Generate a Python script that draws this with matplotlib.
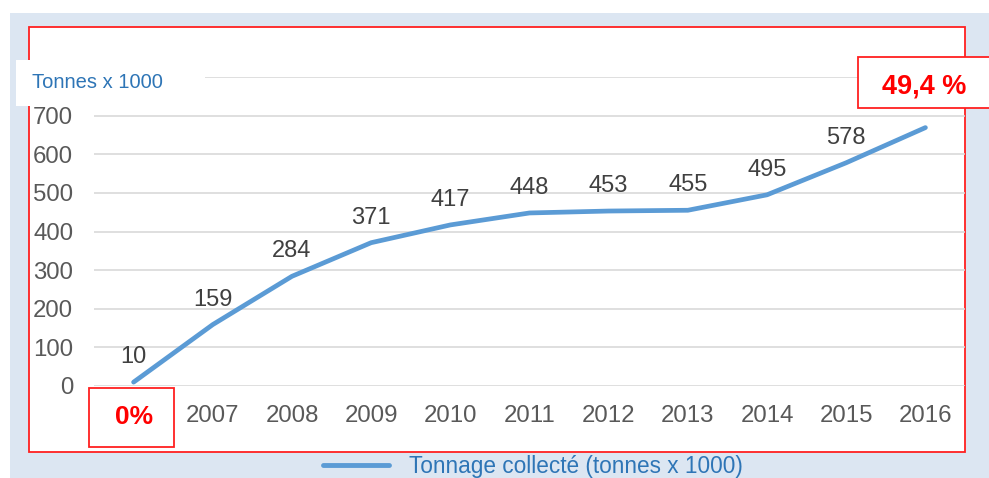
import matplotlib.pyplot as plt
from matplotlib.patches import Rectangle

years = ["0%", "2007", "2008", "2009", "2010", "2011", "2012",
         "2013", "2014", "2015", "2016"]
tonnage = [10, 159, 284, 371, 417, 448, 453, 455, 495, 578, 669]
y_ticks = [0, 100, 200, 300, 400, 500, 600, 700]

W, H = 989, 478
plt.rcParams['font.family'] = ['Liberation Sans', 'DejaVu Sans']


def fx(x):
    return x / W


def fy(y):
    return 1 - y / H


def box(fig, x0, y0, x1, y1, **kw):
    # rectangle given in pixel coords measured from the top-left corner
    r = Rectangle((fx(x0), fy(y1)), fx(x1) - fx(x0), fy(y0) - fy(y1),
                  transform=fig.transFigure, **kw)
    fig.add_artist(r)
    return r


fig = plt.figure(figsize=(W / 100, H / 100), dpi=100)

# light blue background and red frame
box(fig, 10, 13, W, H, facecolor='#dce6f2', edgecolor='none', zorder=-2)
box(fig, 29, 27, 965, 452, facecolor='white', edgecolor='#ff2020', lw=1.3, zorder=-1)

ax = fig.add_axes([fx(94), fy(386), fx(965) - fx(94), fy(77) - fy(386)])
ax.set_facecolor('none')
ax.set_zorder(1)

x = list(range(len(years)))
line, = ax.plot(x, tonnage, color='#5b9bd5', lw=3.4, solid_capstyle='round',
                label='Tonnage collecté (tonnes x 1000)')

# last value is hidden behind the percentage box in the original
for xi, v in zip(x[:-1], tonnage[:-1]):
    ax.annotate(str(v), (xi, v), xytext=(0, 18), textcoords='offset points',
                ha='center', va='center', fontsize=17, color='#404040')

ax.set_xlim(-0.5, len(years) - 0.5)
ax.set_ylim(0, 800)
ax.set_yticks(y_ticks + [800])
ax.set_yticklabels([str(t) for t in y_ticks] + [''])
ax.set_xticks(x)
ax.set_xticklabels(years)
ax.grid(axis='y', color='#d9d9d9', lw=1.2)
ax.set_axisbelow(True)
for s in ax.spines.values():
    s.set_visible(False)
ax.tick_params(length=0, labelsize=17.3, labelcolor='#595959')
ax.tick_params(axis='y', pad=15)
ax.tick_params(axis='x', pad=14)

first = ax.get_xticklabels()[0]
first.set_color('#ff0000')
first.set_fontweight('bold')
first.set_fontsize(19)

# red boxes
box(fig, 89, 388, 174, 447, facecolor='none', edgecolor='#ff2020', lw=1.3, zorder=5)
box(fig, 858, 57, 992, 108, facecolor='white', edgecolor='#ff2020', lw=1.3, zorder=5)
fig.text(fx(924), fy(86), '49,4 %', color='#ff0000', fontsize=19.5, fontweight='bold',
         ha='center', va='center', zorder=6)

# unit label on white patch
box(fig, 16, 60, 205, 106, facecolor='white', edgecolor='none', zorder=3)
fig.text(fx(32), fy(82), 'Tonnes x 1000', color='#2e75b6', fontsize=14.5,
         ha='left', va='center', zorder=4)

fig.legend(handles=[line], loc='center', bbox_to_anchor=(fx(533), fy(466)),
           frameon=False, fontsize=16.3, labelcolor='#2e75b6',
           handlelength=2.9, handletextpad=0.9)
line_leg = fig.legends[0].get_lines()[0]
line_leg.set_linewidth(3.5)

fig.savefig('out.png', dpi=100)
